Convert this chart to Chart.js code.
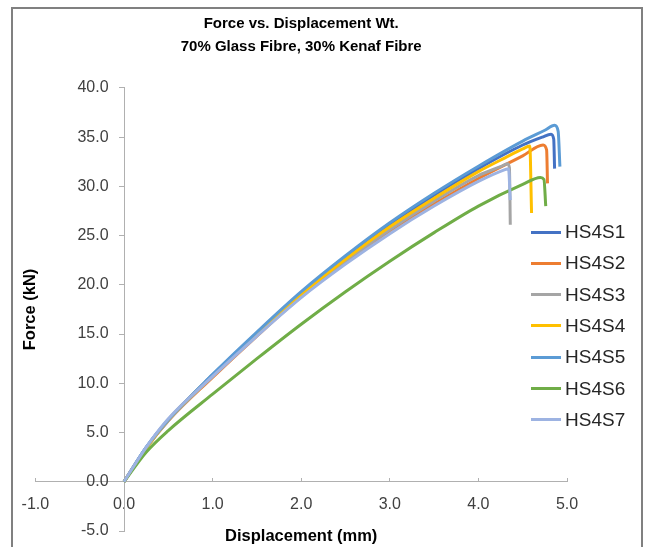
<!DOCTYPE html>
<html>
<head>
<meta charset="utf-8">
<script src="https://cdn.jsdelivr.net/npm/chart.js@4.4.1/dist/chart.umd.min.js"></script>
<style>
  html, body { margin: 0; padding: 0; background: #fff; }
  #wrap { position: relative; width: 646px; height: 547px; overflow: hidden; }
  #frame { position: absolute; left: 11px; top: 7px; width: 628px; height: 600px; border: 2px solid #808080; pointer-events: none; }
  #legend { position: absolute; left: 531px; top: 0; font-family: "Liberation Sans", Arial, sans-serif; font-size: 19px; color: #262626; }
  .item { position: absolute; left: 0; display: flex; align-items: center; gap: 4px; height: 22px; white-space: nowrap; }
  .swatch { width: 30px; height: 3px; }
</style>
</head>
<body>
<div id="wrap">
  <canvas id="chart" width="646" height="547"></canvas>
  <div id="legend"></div>
  <div id="frame"></div>
</div>
<script>
// titles
const chartTitle = ["Force vs. Displacement Wt.", "70% Glass Fibre, 30% Kenaf Fibre"];
const xTitleText = "Displacement (mm)";
const yTitleText = "Force (kN)";

// series
const sampleNames = ["HS4S1", "HS4S2", "HS4S3", "HS4S4", "HS4S5", "HS4S6", "HS4S7"];
const lineColors = ["#4472C4", "#ED7D31", "#A5A5A5", "#FFC000", "#5B9BD5", "#70AD47", "#9DB3E2"];

// displacement (mm) / force (kN)
const dispS1 = [0, 0.25, 0.5, 1.0, 1.5, 2.0, 2.5, 3.0, 3.5, 4.0, 4.5, 4.72, 4.82, 4.85, 4.86];
const forceS1 = [0, 3.5, 6.3, 10.85, 15.1, 19.2, 22.8, 26.1, 29.1, 31.8, 34.2, 35.0, 35.3, 34.8, 31.8];

const dispS2 = [0, 0.25, 0.5, 1.0, 1.5, 2.0, 2.5, 3.0, 3.5, 4.0, 4.5, 4.73, 4.77, 4.78];
const forceS2 = [0, 3.4, 6.2, 10.6, 14.8, 18.8, 22.3, 25.4, 28.2, 30.8, 33.1, 34.2, 33.7, 30.3];

const dispS3 = [0, 0.25, 0.5, 1.0, 1.5, 2.0, 2.5, 3.0, 3.5, 4.0, 4.25, 4.33, 4.35, 4.36];
const forceS3 = [0, 3.4, 6.2, 10.7, 14.9, 18.9, 22.4, 25.6, 28.5, 31.1, 32.0, 32.3, 31.9, 26.1];

const dispS4 = [0, 0.25, 0.5, 1.0, 1.5, 2.0, 2.5, 3.0, 3.5, 4.0, 4.3, 4.5, 4.58, 4.6];
const forceS4 = [0, 3.4, 6.3, 10.8, 15.0, 19.0, 22.6, 25.9, 28.8, 31.5, 32.9, 33.8, 34.1, 27.3];

const dispS5 = [0, 0.25, 0.5, 1.0, 1.5, 2.0, 2.5, 3.0, 3.5, 4.0, 4.5, 4.75, 4.86, 4.9, 4.92];
const forceS5 = [0, 3.5, 6.3, 10.9, 15.2, 19.3, 22.95, 26.3, 29.3, 32.05, 34.6, 35.7, 36.2, 35.6, 32.0];

const dispS6 = [0, 0.25, 0.5, 1.0, 1.5, 2.0, 2.5, 3.0, 3.5, 4.0, 4.5, 4.7, 4.74, 4.76];
const forceS6 = [0, 3.0, 5.2, 8.9, 12.5, 16.0, 19.3, 22.4, 25.3, 28.0, 30.2, 30.9, 30.7, 28.0];

const dispS7 = [0, 0.25, 0.5, 1.0, 1.5, 2.0, 2.5, 3.0, 3.5, 4.0, 4.3, 4.34, 4.36];
const forceS7 = [0, 3.5, 6.4, 10.7, 14.8, 18.7, 22.1, 25.2, 28.0, 30.5, 31.7, 31.8, 28.6];

const dispAll = [dispS1, dispS2, dispS3, dispS4, dispS5, dispS6, dispS7];
const forceAll = [forceS1, forceS2, forceS3, forceS4, forceS5, forceS6, forceS7];

const fontFamily = '"Liberation Sans", Arial, sans-serif';
const axisGray = "#b0b0b0";
const labelColor = "#404040";
const tickFont = { family: fontFamily, size: 16 };
const axisTitleFont = { family: fontFamily, size: 16.5, weight: "bold" };

// label overflow of the crossing axes should not shrink the plot
const noPadding = (scale) => {
  scale.paddingTop = 0;
  scale.paddingBottom = 0;
  scale.paddingLeft = 0;
  scale.paddingRight = 0;
};

const datasets = sampleNames.map((name, i) => ({
  label: name,
  data: dispAll[i].map((d, j) => ({ x: d, y: forceAll[i][j] })),
  borderColor: lineColors[i],
  backgroundColor: lineColors[i],
  borderWidth: 3,
  pointRadius: 0,
  showLine: true,
  fill: false,
  cubicInterpolationMode: "monotone",
  xAxisID: "x",
  yAxisID: "y",
  order: sampleNames.length - i, // later series on top, like the original
}));

const ctx = document.getElementById("chart").getContext("2d");
const chart = new Chart(ctx, {
  type: "scatter",
  data: { datasets: datasets },
  options: {
    responsive: false,
    animation: false,
    layout: { padding: { left: 35.4, right: 79, top: 0, bottom: 0 } },
    plugins: {
      legend: { display: false },
      tooltip: { enabled: false },
      title: {
        display: true,
        text: chartTitle,
        color: "#000",
        font: { family: fontFamily, size: 15, weight: "bold", lineHeight: 1.55 },
        padding: { top: 12.4, bottom: 29 },
      },
    },
    scales: {
      // axis line + tick labels crossing at y = 0
      x: {
        type: "linear",
        min: -1,
        max: 5,
        position: { y: 0 },
        afterFit: noPadding,
        ticks: {
          stepSize: 1,
          autoSkip: false,
          maxRotation: 0,
          color: labelColor,
          font: tickFont,
          padding: 17.4,
          callback: (v) => v.toFixed(1),
        },
        grid: { display: true, drawOnChartArea: false, drawTicks: true, tickLength: -4, color: axisGray },
        border: { display: true, color: axisGray, width: 1 },
      },
      // only carries the x title
      xTitle: {
        type: "linear",
        axis: "x",
        min: -1,
        max: 5,
        position: "bottom",
        afterFit: noPadding,
        ticks: { display: false },
        grid: { display: false, drawTicks: false },
        border: { display: false },
        title: { display: true, text: xTitleText, color: "#000", font: axisTitleFont, padding: { top: -4.9, bottom: 1.1 } },
      },
      // tick labels + title, labels right-aligned next to x = 0
      y: {
        type: "linear",
        min: -5,
        max: 40,
        position: "left",
        afterFit: (scale) => {
          noPadding(scale);
          scale.width = 0;
        },
        ticks: {
          stepSize: 5,
          color: labelColor,
          font: tickFont,
          mirror: true,
          crossAlign: "far",
          padding: 42,
          callback: (v) => v.toFixed(1),
        },
        grid: { display: false, drawTicks: false },
        border: { display: false },
        title: { display: true, text: yTitleText, color: "#000", font: axisTitleFont, padding: { top: -15.3, bottom: 0 } },
      },
      // axis line crossing at x = 0
      yLine: {
        type: "linear",
        axis: "y",
        min: -5,
        max: 40,
        position: { x: 0 },
        afterFit: noPadding,
        ticks: { display: false, stepSize: 5 },
        grid: { display: true, drawOnChartArea: false, drawTicks: true, tickLength: 5, color: axisGray },
        border: { display: true, color: axisGray, width: 1 },
      },
    },
  },
});

// legend built from the chart's datasets
const legendEl = document.getElementById("legend");
chart.data.datasets.forEach((ds, i) => {
  const item = document.createElement("div");
  item.className = "item";
  item.style.top = (232 + i * 31.33 - 11) + "px";
  const sw = document.createElement("span");
  sw.className = "swatch";
  sw.style.background = ds.borderColor;
  const txt = document.createElement("span");
  txt.textContent = ds.label;
  item.appendChild(sw);
  item.appendChild(txt);
  legendEl.appendChild(item);
});
</script>
</body>
</html>
